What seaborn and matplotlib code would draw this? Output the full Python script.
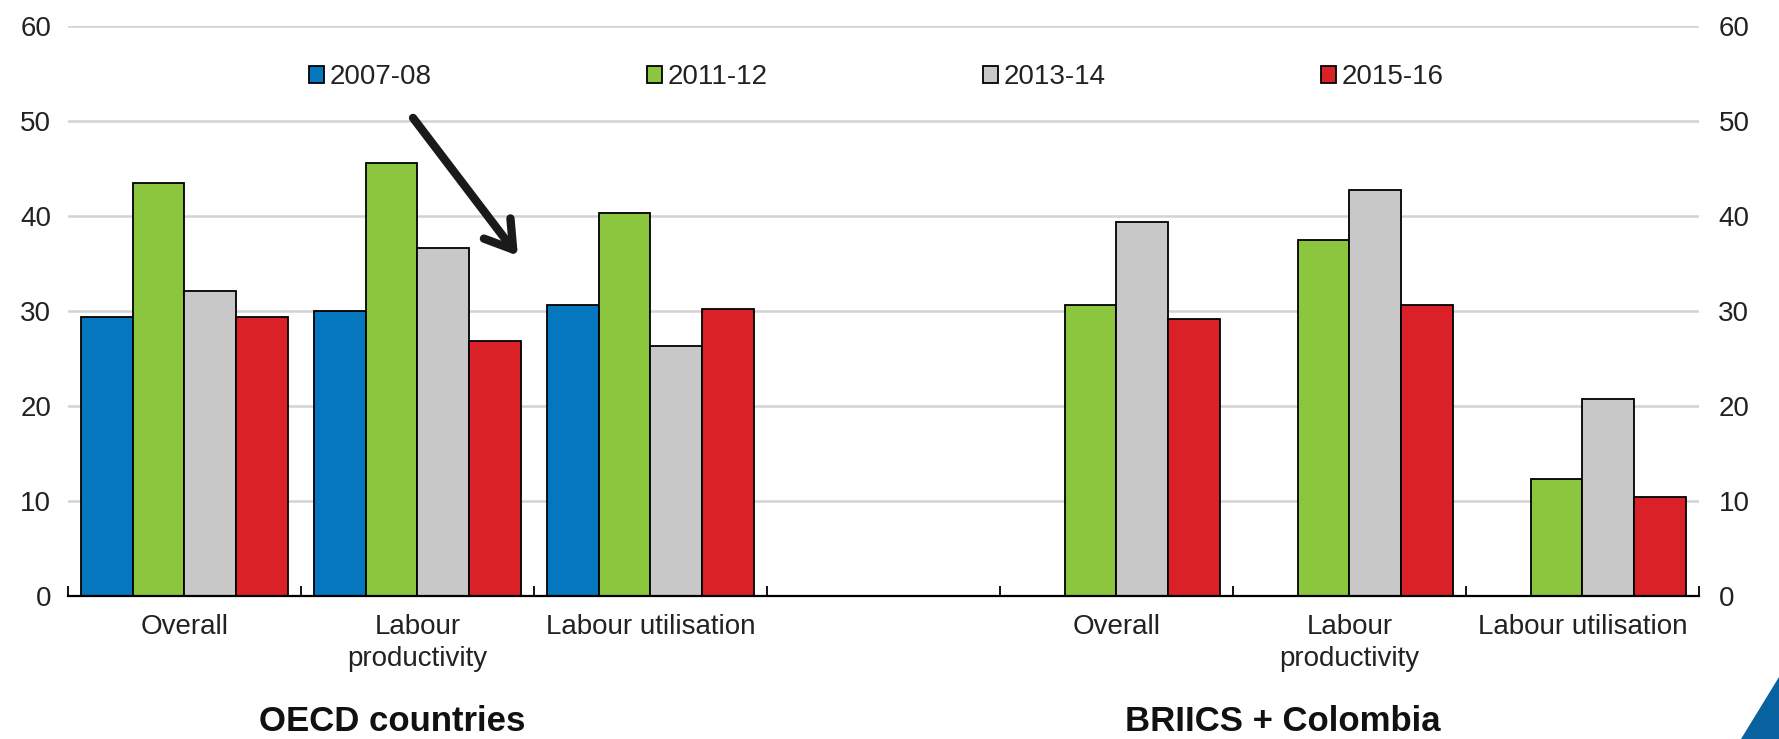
import numpy as np
import pandas as pd
import matplotlib
matplotlib.use("Agg")
import matplotlib.pyplot as plt
import seaborn as sns
from matplotlib.patches import Polygon

# ---- data -------------------------------------------------------------
periods = ["2007-08", "2011-12", "2013-14", "2015-16"]
measures = ["Overall", "Labour\nproductivity", "Labour utilisation"]
groups = ["OECD countries", "BRIICS + Colombia"]

oecd_2007_08 = [29.4, 30.0, 30.6]
oecd_2011_12 = [43.5, 45.6, 40.3]
oecd_2013_14 = [32.1, 36.6, 26.3]
oecd_2015_16 = [29.4, 26.8, 30.2]

briics_2007_08 = [np.nan, np.nan, np.nan]
briics_2011_12 = [30.6, 37.5, 12.3]
briics_2013_14 = [39.4, 42.7, 20.7]
briics_2015_16 = [29.1, 30.6, 10.4]

colors = ["#0477bf", "#8cc63f", "#c8c8c8", "#da2128"]

# ---- long table --------------------------------------------------------
series = {
    "OECD countries": [oecd_2007_08, oecd_2011_12, oecd_2013_14, oecd_2015_16],
    "BRIICS + Colombia": [briics_2007_08, briics_2011_12, briics_2013_14, briics_2015_16],
}
rows = []
for g in groups:
    for p, vals in zip(periods, series[g]):
        for m, v in zip(measures, vals):
            rows.append({"slot": f"{g}|{m}", "period": p, "value": v})
df = pd.DataFrame(rows)

# blank slot separates the two country groups
order = [f"{groups[0]}|{m}" for m in measures] + ["gap"] + [f"{groups[1]}|{m}" for m in measures]
tick_labels = measures + [""] + measures

# ---- figure ------------------------------------------------------------
sns.set_theme(style="white")
plt.rcParams["font.family"] = ["Liberation Sans", "DejaVu Sans"]

fig = plt.figure(figsize=(17.79, 7.39), dpi=100)
ax = fig.add_axes([0.0382, 0.1935, 0.9168, 0.7717])

sns.barplot(
    data=df.dropna(), x="slot", y="value", hue="period",
    order=order, hue_order=periods, palette=colors, saturation=1,
    width=0.89, edgecolor="black", linewidth=1.3,
    errorbar=None, legend=True, ax=ax, zorder=3,
)

ax.set_xlim(-0.5, len(order) - 0.5)
ax.set_ylim(0, 60)
ax.set_yticks(range(0, 61, 10))
ax.set_xlabel("")
ax.set_ylabel("")

for s in ["top", "right", "left"]:
    ax.spines[s].set_visible(False)
ax.spines["bottom"].set_color("black")
ax.spines["bottom"].set_linewidth(1.6)
ax.spines["bottom"].set_zorder(5)

ax.yaxis.grid(True, color="#d3d3d3", linewidth=1.8, zorder=0)
ax.set_axisbelow(True)

# category labels in the middle of each slot, tick marks on slot edges
ax.set_xticks(range(len(order)))
ax.set_xticklabels(tick_labels, fontsize=20, color="#222222", linespacing=1.3)
ax.set_xticks(np.arange(-0.5, len(order)), minor=True)
ax.tick_params(axis="x", which="major", length=0, pad=13)
ax.tick_params(axis="x", which="minor", length=7, width=1.3, direction="in",
               color="black", bottom=True)
ax.tick_params(axis="y", length=0, labelsize=20, labelcolor="#222222", pad=12)

# mirrored value axis on the right
ax2 = ax.twinx()
ax2.set_ylim(ax.get_ylim())
ax2.set_yticks(range(0, 61, 10))
ax2.tick_params(axis="y", length=0, labelsize=20, labelcolor="#222222", pad=14)
for s in ax2.spines.values():
    s.set_visible(False)

# legend across the top
handles, labels = ax.get_legend_handles_labels()
leg = ax.legend(
    handles, labels, ncol=4, loc="center left", bbox_to_anchor=(0.1475, 0.91),
    frameon=False, fontsize=20, handlelength=0.55, handleheight=0.55,
    handletextpad=0.2, columnspacing=7.75, borderpad=0, borderaxespad=0,
)
for h in leg.legend_handles:
    h.set_edgecolor("black")
    h.set_linewidth(1.3)
for t in leg.get_texts():
    t.set_color("#222222")

# arrow pointing at the productivity bars
ax.annotate(
    "", xy=(1.431, 35.8), xytext=(0.981, 50.3),
    arrowprops=dict(arrowstyle="->,head_length=0.95,head_width=0.6",
                    mutation_scale=20, color="#1a1a1a", lw=6,
                    shrinkA=0, shrinkB=0),
    zorder=6,
)

# group titles below the axis
fig.text(0.2206, 0.024, groups[0], ha="center", va="center",
         fontsize=25, fontweight="bold", color="#111111")
fig.text(0.7212, 0.024, groups[1], ha="center", va="center",
         fontsize=25, fontweight="bold", color="#111111")

# corner mark
fig.patches.append(Polygon([(0.9787, 0.0), (1.0, 0.0), (1.0, 0.0839)],
                           closed=True, transform=fig.transFigure,
                           facecolor="#0862a0", edgecolor="none"))

fig.savefig("out.png", dpi=100)
